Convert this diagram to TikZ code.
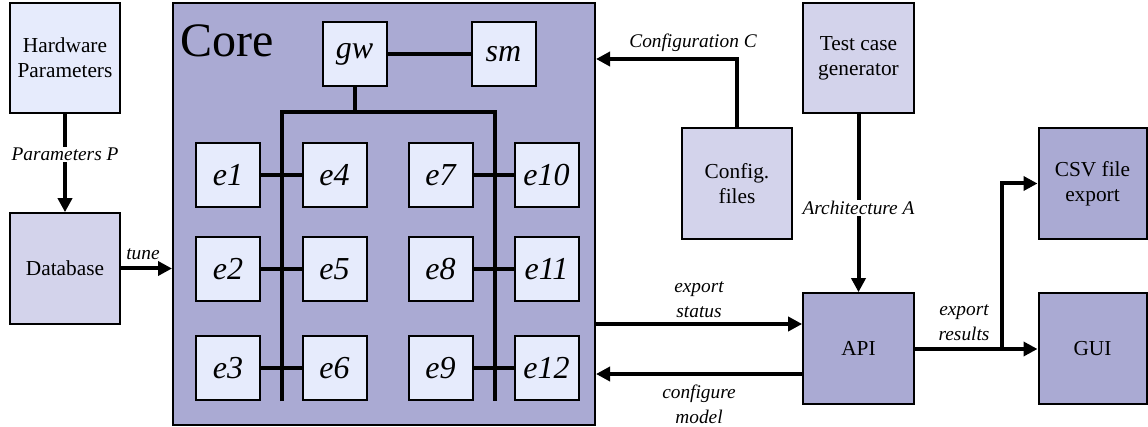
\documentclass[tikz,border=0pt]{standalone}
\usepackage{fontspec}
\setmainfont{Liberation Serif}
\usetikzlibrary{arrows.meta}

\definecolor{boxlight}{HTML}{E6EBFC}
\definecolor{boxmid}{HTML}{D3D3EB}
\definecolor{boxdark}{HTML}{AAAAD3}

\begin{document}
\begin{tikzpicture}[x=0.75pt,y=-0.75pt,
        every node/.style = {shape=rectangle, draw, line width=1.5pt,
            align=center, inner sep=0pt,
            font=\fontsize{16}{19}\selectfont},
        bigbox/.style = {minimum size=83pt},
        elem/.style = {fill=boxlight, minimum size=48pt,
            font=\fontsize{24}{28}\selectfont\itshape},
        lbl/.style = {draw=none, fill=none, inner sep=1pt,
            font=\fontsize{14.5}{18.75}\selectfont\itshape},
        conn/.style = {line width=3pt},
        arr/.style = {line width=3pt, -{Triangle[length=10.5pt,width=10.5pt]}}]
    \useasboundingbox (0,0) rectangle (1148,427);

    % outer blocks
    \node[bigbox, fill=boxlight] (hw) at (65,58) {Hardware\\Parameters};
    \node[bigbox, fill=boxmid] (db) at (65,268.5) {Database};
    \node[fill=boxdark, minimum size=316.5pt] (core) at (384,214) {};
    \node[draw=none, anchor=base west, font=\fontsize{36}{40}\selectfont]
        (coretitle) at (179,57) {Core};
    \node[bigbox, fill=boxmid] (cfg) at (737,183.5) {Config.\\files};
    \node[bigbox, fill=boxmid] (tcg) at (858.5,58) {Test case\\generator};
    \node[bigbox, fill=boxdark] (api) at (858.5,348.5) {API};
    \node[bigbox, fill=boxdark, minimum width=81pt] (csv) at (1092.5,183.5) {CSV file\\export};
    \node[bigbox, fill=boxdark, minimum width=81pt] (gui) at (1092.5,348.5) {GUI};

    % core internals
    \node[elem] (gw) at (354.5,54) {gw};
    \node[elem] (sm) at (503.5,54) {sm};
    \node[elem] (e1) at (228,175) {e1};
    \node[elem] (e2) at (228,269) {e2};
    \node[elem] (e3) at (228,368) {e3};
    \node[elem] (e4) at (334.5,175) {e4};
    \node[elem] (e5) at (334.5,269) {e5};
    \node[elem] (e6) at (334.5,368) {e6};
    \node[elem] (e7) at (440.5,175) {e7};
    \node[elem] (e8) at (440.5,269) {e8};
    \node[elem] (e9) at (440.5,368) {e9};
    \node[elem] (e10) at (546.5,175) {e10};
    \node[elem] (e11) at (546.5,269) {e11};
    \node[elem] (e12) at (546.5,368) {e12};

    \coordinate (busL) at (282,112);
    \coordinate (busR) at (495,112);
    \coordinate (busLend) at (282,401);
    \coordinate (busRend) at (495,401);
    \coordinate (yconf) at (0,59);
    \coordinate (ystat) at (0,324);
    \coordinate (ymodel) at (0,374);
    \coordinate (branch) at (1002,349);

    % bus
    \draw[conn, line width=3.5pt] (busLend) -- (busL) -- (busR) -- (busRend);
    \draw[conn] (gw) -- (sm);
    \draw[conn] (gw) -- (gw |- busL);
    \draw[conn] (e1) -- (e4);
    \draw[conn] (e2) -- (e5);
    \draw[conn] (e3) -- (e6);
    \draw[conn] (e7) -- (e10);
    \draw[conn] (e8) -- (e11);
    \draw[conn] (e9) -- (e12);

    % data flow
    \draw[arr] (hw) -- node[lbl, fill=white, pos=0.41] {Parameters P} (db);
    \draw[arr] (db) -- (core.west |- db);
    \node[lbl] (tunelbl) at (143,254) {tune};
    \draw[arr] (cfg.north) |- (core.east |- yconf);
    \node[lbl] (conflbl) at (693,43) {Configuration C};
    \draw[arr] (tcg) -- node[lbl, fill=white, pos=0.525] {Architecture A} (api);
    \draw[arr] (core.east |- ystat) -- (api.west |- ystat);
    \node[lbl] (statlbl) at (699,300) {export\\status};
    \draw[arr] (api.west |- ymodel) -- (core.east |- ymodel);
    \node[lbl] (modellbl) at (699,404) {configure\\model};
    \draw[arr] (api.east |- branch) -- (gui.west |- branch);
    \draw[arr] (branch) |- (csv.west);
    \node[lbl] (reslbl) at (964,323) {export\\results};
\end{tikzpicture}
\end{document}
